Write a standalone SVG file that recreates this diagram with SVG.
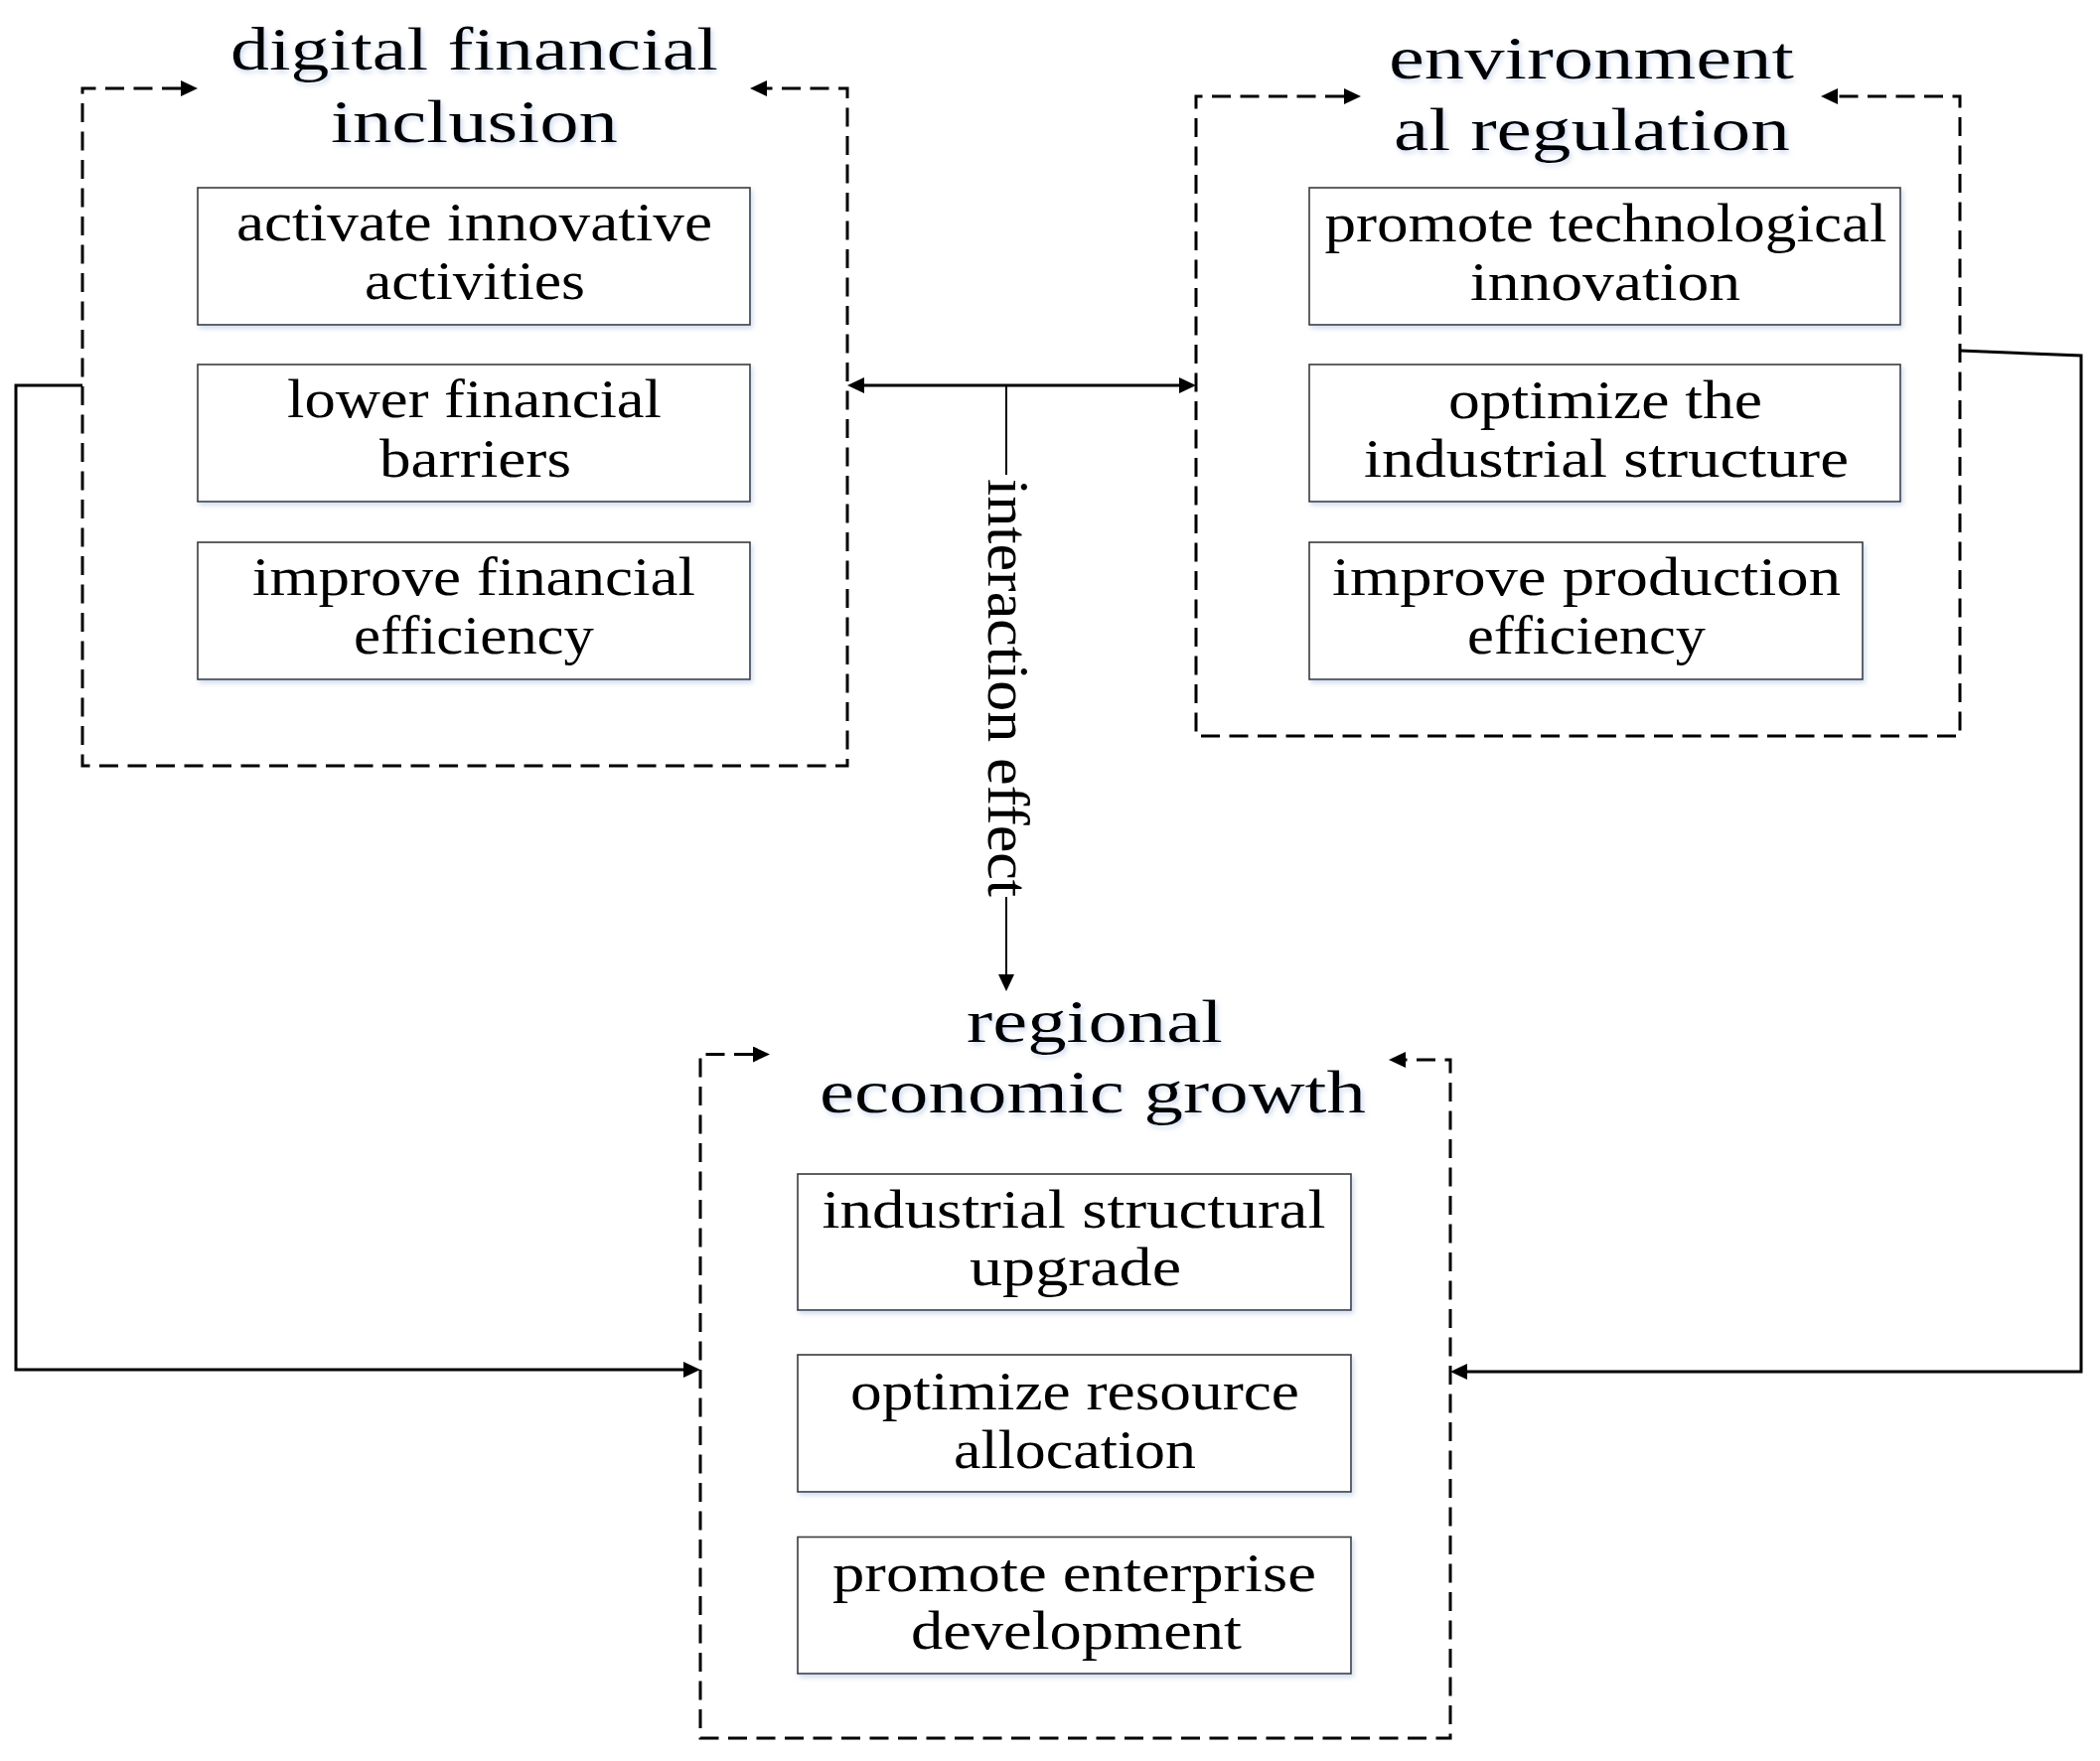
<svg xmlns="http://www.w3.org/2000/svg" width="2114" height="1773" viewBox="0 0 2114 1773">
<defs>
<style>
.bg{fill:#ffffff}
.frame{fill:none;stroke:#000;stroke-width:3;stroke-dasharray:19 9.5}
.box{fill:#ffffff;stroke:#3a3a3a;stroke-width:1.6}
.conn{fill:none;stroke:#000;stroke-width:3}
.thin{fill:none;stroke:#000;stroke-width:2}
.title{font-family:"Liberation Serif","Times New Roman",serif;font-size:61px;fill:#000;text-anchor:middle}
.item{font-family:"Liberation Serif","Times New Roman",serif;font-size:54px;fill:#000;text-anchor:middle}
.lab{font-family:"Liberation Serif","Times New Roman",serif;font-size:60px;fill:#000}
</style>
<marker id="ah" viewBox="0 0 17 16" refX="0" refY="8" markerWidth="17" markerHeight="16" markerUnits="userSpaceOnUse" orient="auto-start-reverse">
<path d="M0,0 L17,8 L0,16 z" fill="#000"/>
</marker>
<filter id="sh" x="-10%" y="-20%" width="125%" height="150%">
<feGaussianBlur in="SourceAlpha" stdDeviation="2.5"/>
<feOffset dx="2" dy="3" result="b"/>
<feFlood flood-color="#a9bfe6" flood-opacity="0.55"/>
<feComposite in2="b" operator="in"/>
<feMerge><feMergeNode/><feMergeNode in="SourceGraphic"/></feMerge>
</filter>
</defs>
<rect class="bg" x="0" y="0" width="2114" height="1773"/>

<g id="connectors">
<path class="conn" d="M870,388 H1187" marker-start="url(#ah)" marker-end="url(#ah)"/>
<path class="thin" d="M1013,388 V478"/>
<path class="thin" d="M1013,903 V981" marker-end="url(#ah)"/>
<path class="conn" d="M83,388 H16 V1379 H688" marker-end="url(#ah)"/>
<path class="conn" d="M1973,353 L2095,358 V1381 H1477" marker-end="url(#ah)"/>
<text class="lab" transform="translate(995,482) rotate(90)" textLength="421" lengthAdjust="spacingAndGlyphs">interaction effect</text>
</g>

<g id="digital-financial-inclusion">
<path class="frame" d="M182,89 H83 V771 H853 V89 H772" marker-start="url(#ah)" marker-end="url(#ah)"/>
<g filter="url(#sh)">
<text class="title" x="477.5" y="70" textLength="491" lengthAdjust="spacingAndGlyphs">digital financial</text>
<text class="title" x="477.5" y="143" textLength="289" lengthAdjust="spacingAndGlyphs">inclusion</text>
</g>
<g id="dfi-1" filter="url(#sh)">
<rect class="box" x="199" y="189" width="556" height="138"/>
<text class="item" x="477.5" y="242" textLength="479" lengthAdjust="spacingAndGlyphs">activate innovative</text>
<text class="item" x="478" y="301" textLength="222" lengthAdjust="spacingAndGlyphs">activities</text>
</g>
<g id="dfi-2" filter="url(#sh)">
<rect class="box" x="199" y="367" width="556" height="138"/>
<text class="item" x="477.5" y="420" textLength="377" lengthAdjust="spacingAndGlyphs">lower financial</text>
<text class="item" x="478.5" y="480" textLength="193" lengthAdjust="spacingAndGlyphs">barriers</text>
</g>
<g id="dfi-3" filter="url(#sh)">
<rect class="box" x="199" y="546" width="556" height="138"/>
<text class="item" x="477" y="599" textLength="446" lengthAdjust="spacingAndGlyphs">improve financial</text>
<text class="item" x="477" y="658" textLength="242" lengthAdjust="spacingAndGlyphs">efficiency</text>
</g>
</g>

<g id="environmental-regulation">
<path class="frame" d="M1353,97 H1204 V741 H1973 V97 H1850" marker-start="url(#ah)" marker-end="url(#ah)"/>
<g filter="url(#sh)">
<text class="title" x="1602" y="79" textLength="408" lengthAdjust="spacingAndGlyphs">environment</text>
<text class="title" x="1602.5" y="151" textLength="399" lengthAdjust="spacingAndGlyphs">al regulation</text>
</g>
<g id="er-1" filter="url(#sh)">
<rect class="box" x="1318" y="189" width="595" height="138"/>
<text class="item" x="1616.5" y="243" textLength="566" lengthAdjust="spacingAndGlyphs">promote technological</text>
<text class="item" x="1616" y="302" textLength="272" lengthAdjust="spacingAndGlyphs">innovation</text>
</g>
<g id="er-2" filter="url(#sh)">
<rect class="box" x="1318" y="367" width="595" height="138"/>
<text class="item" x="1616" y="421" textLength="316" lengthAdjust="spacingAndGlyphs">optimize the</text>
<text class="item" x="1617" y="480" textLength="488" lengthAdjust="spacingAndGlyphs">industrial structure</text>
</g>
<g id="er-3" filter="url(#sh)">
<rect class="box" x="1318" y="546" width="557" height="138"/>
<text class="item" x="1597" y="599" textLength="512" lengthAdjust="spacingAndGlyphs">improve production</text>
<text class="item" x="1597" y="658" textLength="240" lengthAdjust="spacingAndGlyphs">efficiency</text>
</g>
</g>

<g id="regional-economic-growth">
<path class="frame" d="M758,1061.5 H705 V1750 H1460 V1067 H1415" marker-start="url(#ah)" marker-end="url(#ah)"/>
<g filter="url(#sh)">
<text class="title" x="1102" y="1049" textLength="258" lengthAdjust="spacingAndGlyphs">regional</text>
<text class="title" x="1100" y="1120" textLength="550" lengthAdjust="spacingAndGlyphs">economic growth</text>
</g>
<g id="reg-1" filter="url(#sh)">
<rect class="box" x="803" y="1182" width="557" height="137"/>
<text class="item" x="1081" y="1236" textLength="507" lengthAdjust="spacingAndGlyphs">industrial structural</text>
<text class="item" x="1082.5" y="1294" textLength="213" lengthAdjust="spacingAndGlyphs">upgrade</text>
</g>
<g id="reg-2" filter="url(#sh)">
<rect class="box" x="803" y="1364" width="557" height="138"/>
<text class="item" x="1082" y="1419" textLength="452" lengthAdjust="spacingAndGlyphs">optimize resource</text>
<text class="item" x="1082" y="1478" textLength="244" lengthAdjust="spacingAndGlyphs">allocation</text>
</g>
<g id="reg-3" filter="url(#sh)">
<rect class="box" x="803" y="1547.5" width="557" height="137.5"/>
<text class="item" x="1081.5" y="1602" textLength="487" lengthAdjust="spacingAndGlyphs">promote enterprise</text>
<text class="item" x="1083.5" y="1660" textLength="333" lengthAdjust="spacingAndGlyphs">development</text>
</g>
</g>
</svg>
